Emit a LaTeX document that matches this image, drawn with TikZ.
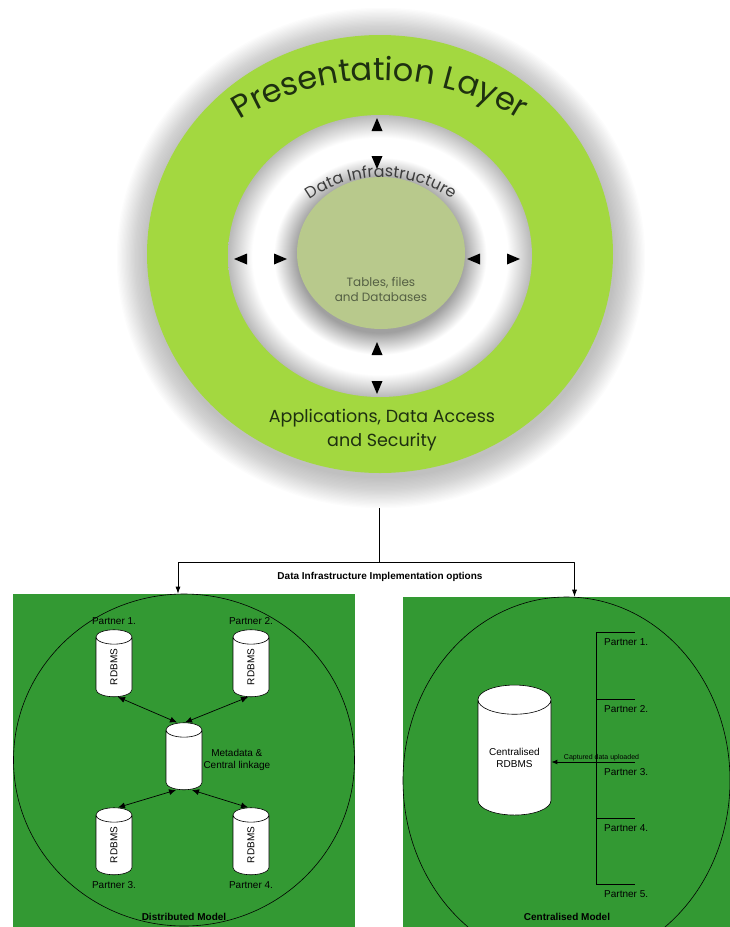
\documentclass[tikz,border=0pt]{standalone}
\usepackage{fontspec}
\setmainfont{Liberation Sans}
\newfontfamily\gothic{Poppins}
\usetikzlibrary{arrows.meta,positioning,shapes.geometric,decorations.text}
\definecolor{ringgreen}{RGB}{163,216,64}
\definecolor{discgreen}{RGB}{184,201,140}
\definecolor{panelgreen}{RGB}{51,153,51}
\definecolor{ringtext}{RGB}{30,48,16}
\definecolor{infratext}{RGB}{60,60,60}
\definecolor{tabletext}{RGB}{85,96,68}
\pgfdeclareradialshading{holeshade}{\pgfpoint{0bp}{0bp}}{color(0bp)=(gray!60); color(13.6bp)=(gray!75); color(17.5bp)=(white); color(21bp)=(white); color(25bp)=(gray!55); color(50bp)=(gray!55)}
\begin{document}
\begin{tikzpicture}[x=1pt,y=1pt,line join=round,
  db/.style={cylinder,draw=black,fill=white,line width=0.6pt,shape border rotate=90,aspect=0.4,inner sep=0pt,text width=36pt,align=center,font=\fontsize{10}{12}\selectfont},
  lbl/.style={font=\fontsize{10}{12}\selectfont,inner sep=1pt},
  dbl/.style={{Latex[length=7pt,width=6pt]}-{Latex[length=7pt,width=6pt]},line width=0.7pt},
  model/.style={font=\bfseries\fontsize{10}{12}\selectfont}]
\useasboundingbox (0,0) rectangle (730,-927);
% ring with its soft shadow
\foreach \i in {1,...,24}
  \fill[black,opacity=0.012] (381,-258) ellipse ({233+1.3*\i} and {219+1.3*\i});
\fill[ringgreen] (380,-254) ellipse (233 and 219);
\shade[shading=holeshade] (380,-256) ellipse (152 and 141);
\fill[discgreen] (381,-253) ellipse (84 and 76);
\path[decorate,decoration={text along path,text align=center,text color=ringtext,
  text={|\gothic\fontsize{32}{32}\selectfont|Presentation Layer}}]
  (380,-345) ++(145:265) arc[start angle=145,end angle=35,radius=265];
\path[decorate,decoration={text along path,text align=center,text color=infratext,
  text={|\gothic\fontsize{16}{16}\selectfont|Data Infrastructure}}]
  (381,-301) ++(145:124) arc[start angle=145,end angle=35,radius=124];
\node[font=\gothic\fontsize{12}{15}\selectfont,text=tabletext,align=center] (tables) at (381,-289) {Tables, files\\and Databases};
\node[font=\gothic\fontsize{17.5}{24}\selectfont,text=ringtext,align=center] (apps) at (382,-430) {Applications, Data Access\\and Security};
\foreach \x/\y/\a in {377/125/90,377/162/-90,241/259/180,280/259/0,474/259/180,513/259/0,377/349/90,377/387/-90}
  \fill[shift={(\x,-\y)},rotate=\a] (7,0) -- (-6,5.5) -- (-6,-5.5) -- cycle;
% implementation options
\fill[panelgreen] (13,-594) rectangle (355,-927);
\fill[panelgreen] (403,-597) rectangle (730,-927);
\node[ellipse,draw,line width=0.6pt,minimum width=341,minimum height=332,inner sep=0pt] (distModel) at (184,-760) {};
\node[ellipse,draw,line width=0.6pt,minimum width=327,minimum height=367,inner sep=0pt] (centModel) at (566.5,-780.5) {};
\coordinate (stem) at (379,-508);
\coordinate (split) at (379,-562);
\draw[line width=0.7pt] (stem) -- (split);
\draw[line width=0.7pt,-{Latex[length=7pt,width=5pt]}] (split) -| ([xshift=-6pt]distModel.north);
\draw[line width=0.7pt,-{Latex[length=7pt,width=5pt]}] (split) -| ([xshift=8pt]centModel.north);
\node[font=\bfseries\fontsize{10}{12}\selectfont] (options) at (380,-577) {Data Infrastructure Implementation options};
% distributed
\node[db,minimum height=67] (p1) at (114,-667) {\rotatebox{90}{RDBMS}};
\node[db,minimum height=67] (p2) at (251,-667) {\rotatebox{90}{RDBMS}};
\node[db,minimum height=67] (p3) at (114,-845) {\rotatebox{90}{RDBMS}};
\node[db,minimum height=67] (p4) at (251,-845) {\rotatebox{90}{RDBMS}};
\node[db,minimum height=67] (meta) at (184,-760) {};
\node[lbl,above=4pt of p1] {Partner 1.};
\node[lbl,above=4pt of p2] {Partner 2.};
\node[lbl,below=5pt of p3] {Partner 3.};
\node[lbl,below=5pt of p4] {Partner 4.};
\node[lbl,right=0pt of meta,align=center] (metaLbl) {Metadata \&\\Central linkage};
\draw[dbl] ([xshift=4pt]p1.south) -- ([xshift=-7pt]meta.north);
\draw[dbl] ([xshift=-3pt]p2.south) -- ([xshift=1pt]meta.north);
\draw[dbl] ([xshift=4pt]p3.north) -- ([xshift=-8pt]meta.south);
\draw[dbl] ([xshift=-3pt]p4.north) -- ([xshift=8pt]meta.south);
\node[model] (distLbl) at (184,-917) {Distributed Model};
% centralised
\node[db,text width=73pt,minimum height=130] (cdb) at (514.5,-757.5) {Centralised\\RDBMS};
\draw[line width=0.7pt] (596,-632) -- (596,-884);
\foreach \k/\y in {1/632,2/699,3/762,4/818,5/884}{
  \draw[line width=0.7pt] (596,-\y) -- (635,-\y) coordinate (tick\k);
  \node[lbl,anchor=west] (partner\k) at (603,-\y-10) {Partner \k.};
}
\draw[line width=1pt,-{Latex[length=6pt,width=5pt]}] (tick3) -- (cdb.east |- tick3)
  node[pos=0.4,above=-2.5pt,font=\fontsize{7}{8}\selectfont] {Captured data uploaded};
\node[model] (centLbl) at (567,-917) {Centralised Model};
\end{tikzpicture}
\end{document}
